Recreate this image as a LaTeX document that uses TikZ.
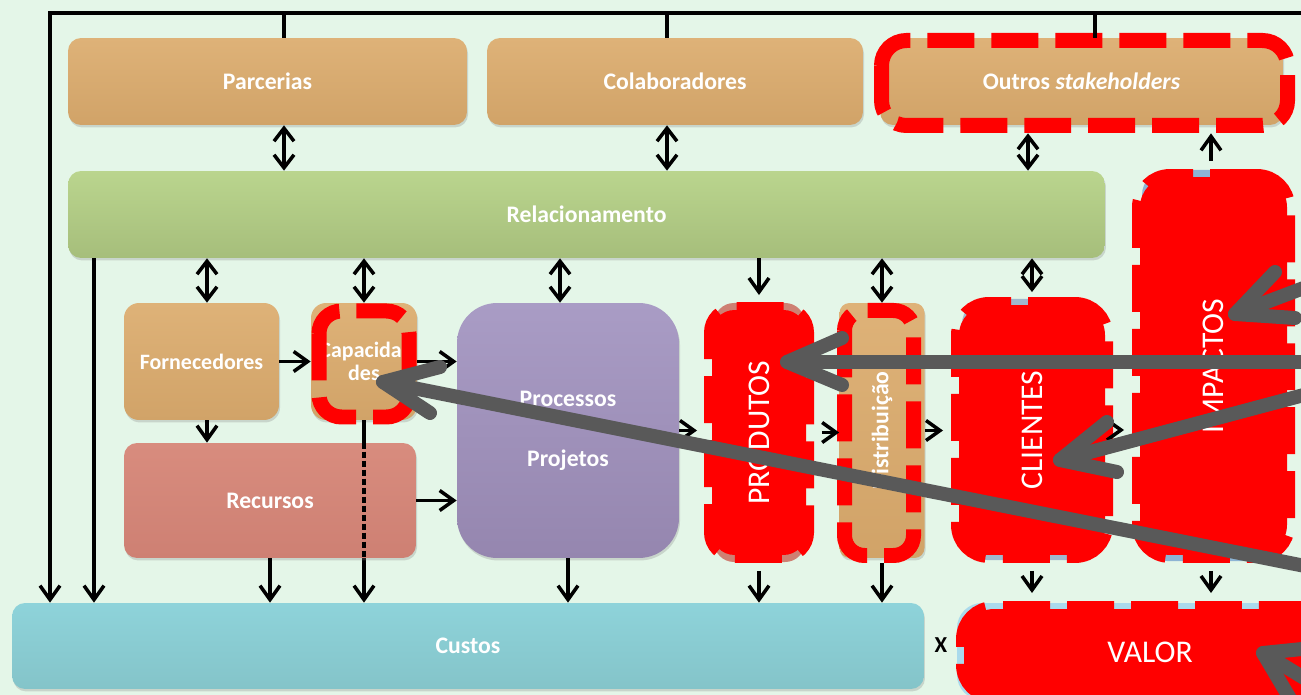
\documentclass[tikz,border=0pt]{standalone}
\usepackage{fontspec}
\setmainfont{Carlito}
\usepackage{graphicx}
\usetikzlibrary{arrows.meta,shadows}

\definecolor{bgmint}{RGB}{228,246,232}
\definecolor{tanT}{RGB}{222,178,120}
\definecolor{tanB}{RGB}{209,163,104}
\definecolor{grnT}{RGB}{186,213,142}
\definecolor{grnB}{RGB}{166,190,123}
\definecolor{purT}{RGB}{169,156,197}
\definecolor{purB}{RGB}{149,134,175}
\definecolor{salT}{RGB}{216,140,126}
\definecolor{salB}{RGB}{206,128,115}
\definecolor{bluT}{RGB}{142,211,218}
\definecolor{bluB}{RGB}{132,196,201}
\definecolor{impBlue}{RGB}{141,180,212}
\definecolor{valBlue}{RGB}{170,218,236}
\definecolor{cliBlue}{RGB}{160,184,206}
\definecolor{pointergray}{RGB}{89,89,89}

\begin{document}
\begin{tikzpicture}[x=0.02cm,y=-0.02cm,
  lbl/.style={text=white,font=\bfseries\fontsize{13.5}{16}\selectfont,align=center},
  box/.style={lbl,rounded corners=0.26cm,inner sep=0pt,
    drop shadow={opacity=0.28,shadow xshift=0.6pt,shadow yshift=-1.4pt}},
  tanbox/.style={box,top color=tanT,bottom color=tanB},
  grnbox/.style={box,top color=grnT,bottom color=grnB},
  purbox/.style={box,top color=purT,bottom color=purB,rounded corners=0.8cm},
  salbox/.style={box,top color=salT,bottom color=salB},
  blubox/.style={box,top color=bluT,bottom color=bluB},
  redbox/.style={fill=red,draw=red,line width=0.32cm,
    dash pattern=on 0.94cm off 0.34cm,rounded corners=0.6cm,inner sep=0pt,
    text=white,font=\fontsize{18}{21}\selectfont},
  redring/.style={draw=red,line width=0.3cm,dash pattern=on 0.94cm off 0.34cm},
  conn/.style={line width=2pt},
  arr/.style={conn,-{Straight Barb[length=2.8mm,width=4mm]}},
  darr/.style={conn,{Straight Barb[length=2.6mm,width=4mm]}-{Straight Barb[length=2.6mm,width=4mm]}},
  pointer/.style={draw=pointergray,line width=0.28cm,line cap=round,line join=round}
]
\useasboundingbox (0,0) rectangle (1301,695);
\clip (0,0) rectangle (1301,695);
\fill[bgmint] (0,0) rectangle (1301,695);

% coloured boxes lying under the red highlights
\fill[salB,rounded corners=0.4cm] (714,303) rectangle (805,562);
\fill[cliBlue,rounded corners=0.5cm] (962,299) rectangle (1102,560);
\fill[impBlue,rounded corners=0.5cm] (1142,170) rectangle (1284,561);
\fill[valBlue,rounded corners=0.5cm] (957,603) rectangle (1340,700);

% partner boxes and relationship bar
\node[tanbox,minimum width=7.98cm,minimum height=1.74cm] (parc) at (267.5,81.5) {Parcerias};
\node[tanbox,minimum width=7.52cm,minimum height=1.74cm] (colab) at (675,81.5) {Colaboradores};
\node[tanbox,minimum width=8.06cm,minimum height=1.74cm] (outros) at (1081.5,81.5) {Outros \textit{stakeholders}};
\node[grnbox,minimum width=20.74cm,minimum height=1.74cm] (relac) at (586.5,214.5) {Relacionamento};

% inner chain
\node[tanbox,minimum width=3.10cm,minimum height=2.34cm,font=\bfseries\fontsize{12.5}{14}\selectfont,rounded corners=0.3cm] (forn) at (201.5,361.5) {Fornecedores};
\node[tanbox,minimum width=2.12cm,minimum height=2.34cm,font=\bfseries\fontsize{12.5}{13.5}\selectfont,rounded corners=0.3cm] (cap) at (364,361.5) {Capacida-\\des};
\node[purbox,minimum width=4.44cm,minimum height=5.10cm] (proc) at (568,430.5) {Processos\\[18pt]Projetos};
\node[tanbox,minimum width=1.70cm,minimum height=5.10cm,rounded corners=0.2cm] (dist) at (882,430.5) {\rotatebox{90}{Distribuição}};
\node[blubox,minimum width=18.24cm,minimum height=1.72cm] (custos) at (468,646) {Custos};

% capabilities also feed the costs, passing behind the resources box
\draw[arr] (cap.south) -- (cap.south |- custos.north);
\node[salbox,minimum width=5.84cm,minimum height=2.30cm] (rec) at (270,500.5) {Recursos};
\draw[conn,dash pattern=on 0.13cm off 0.05cm] (cap.south |- rec.north) -- (cap.south |- rec.south);

% highlighted boxes
\node[redbox,minimum width=1.88cm,minimum height=4.90cm,rounded corners=0.45cm] (prod) at (759,432.5) {\rotatebox{90}{PRODUTOS}};
\node[redbox,minimum width=2.92cm,minimum height=5.00cm] (clien) at (1032,430) {\rotatebox{90}{CLIENTES}};
\node[redbox,minimum width=2.94cm,minimum height=7.56cm] (impac) at (1213.5,366) {\rotatebox{90}{IMPACTOS}};
\node[redbox,minimum width=7.44cm,minimum height=1.72cm] (valor) at (1150,652) {VALOR};

% dashed red outlines
\draw[redring,rounded corners=0.5cm] (881.5,40.5) rectangle (1287.5,125.5);
\draw[redring,rounded corners=0.45cm] (319,311) rectangle (409,417);
\draw[redring,rounded corners=0.4cm] (844.5,310.5) rectangle (913.5,555.5);

% column positions of the connectors
\coordinate (fL) at (50,13);
\coordinate (fR) at (1330,13);
\coordinate (cP) at (284,0);
\coordinate (cC) at (667,0);
\coordinate (cO) at (1095,0);
\coordinate (cR) at (94,0);
\coordinate (cF) at (207,0);
\coordinate (cPr) at (560,0);
\coordinate (cOs) at (1028,0);
\coordinate (cI) at (1211,0);

% outer frame
\draw[arr] (fR) -- (fL) -- (fL |- custos.north);
\draw[conn] (cP |- fL) -- (cP |- parc.north);
\draw[conn] (cC |- fL) -- (cC |- colab.north);
\draw[conn] (cO |- fL) -- (cO |- outros.north);

% partners <-> relationship
\draw[darr] (cP |- parc.south) -- (cP |- relac.north);
\draw[darr] (cC |- colab.south) -- (cC |- relac.north);
\draw[darr,shorten <=0.16cm] (cOs |- outros.south) -- (cOs |- relac.north);
\draw[arr,shorten <=0.16cm,shorten >=0.16cm] (cI |- impac.north) -- (cI |- outros.south);

% relationship -> inner boxes
\draw[arr] (cR |- relac.south) -- (cR |- custos.north);
\draw[darr] (cF |- relac.south) -- (cF |- forn.north);
\draw[darr] (cap.north |- relac.south) -- (cap.north);
\draw[darr] (cPr |- relac.south) -- (cPr |- proc.north);
\draw[arr,shorten >=0.14cm] (prod.north |- relac.south) -- (prod.north);
\draw[darr] (dist.north |- relac.south) -- (dist.north);
\draw[darr,shorten >=0.1cm] (clien.north |- relac.south) -- (clien.north);

% value chain
\draw[arr] (forn.east) -- (cap.west);
\draw[arr] (cap.east) -- (cap.east -| proc.west);
\draw[arr] (cF |- forn.south) -- (cF |- rec.north);
\draw[arr] (rec.east) -- (rec.east -| proc.west);
\draw[arr,shorten >=0.14cm] (proc.east) -- (proc.east -| prod.west);
\draw[arr,shorten <=0.16cm] (prod.east) -- (prod.east -| dist.west);
\draw[arr,shorten >=0.16cm] (dist.east) -- (dist.east -| clien.west);
\draw[arr,shorten <=0.16cm,shorten >=0.16cm] (clien.east) -- (clien.east -| impac.west);

% costs and value
\draw[arr] (rec.south) -- (rec.south |- custos.north);
\draw[arr] (proc.south) -- (proc.south |- custos.north);
\draw[arr,shorten <=0.16cm] (prod.south) -- (prod.south |- custos.north);
\draw[arr,shorten <=0.1cm] (dist.south) -- (dist.south |- custos.north);
\draw[arr,shorten <=0.16cm,shorten >=0.16cm] (clien.south) -- (clien.south |- valor.north);
\draw[arr,shorten <=0.16cm,shorten >=0.16cm] (cI |- impac.south) -- (cI |- valor.north);

\node[font=\bfseries\fontsize{13}{15}\selectfont] (times) at (941,645) {X};

% grey pointers
\coordinate (p1s) at (1330,362);  \coordinate (p1t) at (787,362);
\coordinate (p1a) at (842,338);   \coordinate (p1b) at (842,385);
\coordinate (p2s) at (1330,571);  \coordinate (p2t) at (383,382);
\coordinate (p2a) at (440,367);   \coordinate (p2b) at (430,413);
\coordinate (p3s) at (1330,388);  \coordinate (p3t) at (1060,460);
\coordinate (p3a) at (1107,422);  \coordinate (p3b) at (1117,472);
\coordinate (p4s) at (1330,278);  \coordinate (p4t) at (1235,314);
\coordinate (p4a) at (1275,272);  \coordinate (p4b) at (1295,318);
\coordinate (p5s) at (1340,700);  \coordinate (p5t) at (1263,653);
\coordinate (p5a) at (1312,648);  \coordinate (p5b) at (1292,702);
\foreach \p in {p1,p2,p3,p4,p5}{
  \draw[pointer] (\p s) -- (\p t);
  \draw[pointer] (\p a) -- (\p t) -- (\p b);
}
\end{tikzpicture}
\end{document}
